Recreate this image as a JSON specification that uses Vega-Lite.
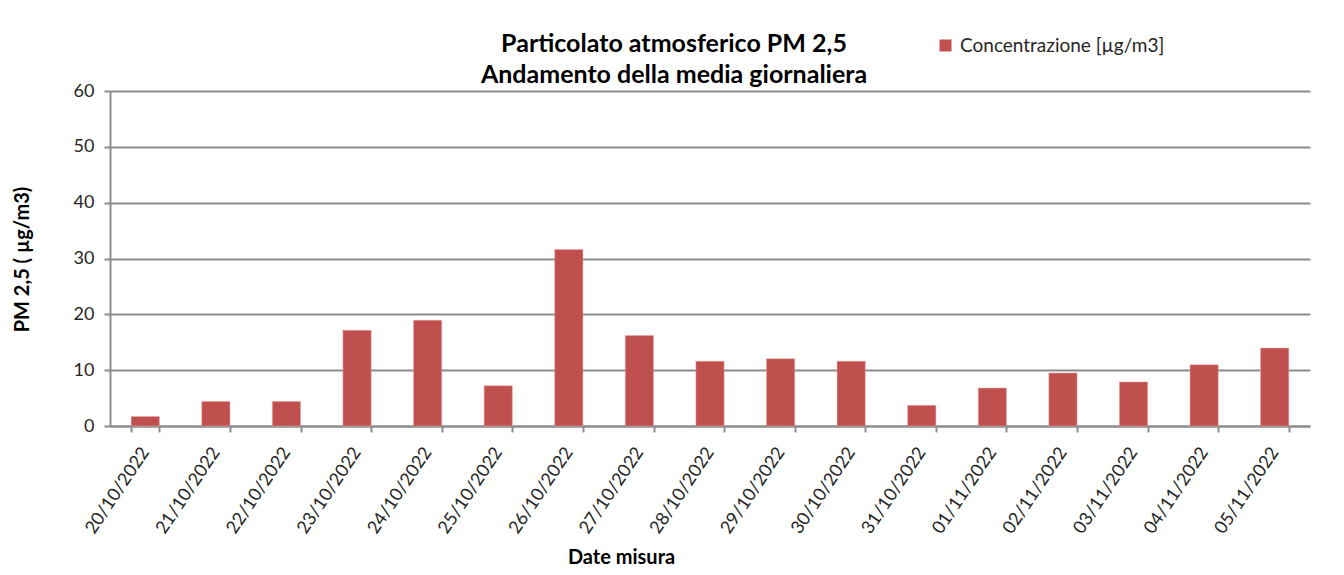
{
  "$schema": "https://vega.github.io/schema/vega-lite/v6.json",
  "autosize": "none",
  "width": 1200,
  "height": 335,
  "padding": {"left": 110, "top": 91, "right": 34, "bottom": 149},
  "background": "white",
  "config": {
    "font": "Lato",
    "view": {"stroke": null}
  },
  "title": {
    "text": ["Particolato  atmosferico PM 2,5", "Andamento della media giornaliera"],
    "fontSize": 25,
    "fontWeight": "bold",
    "font": "Lato",
    "color": "#000000",
    "lineHeight": 31,
    "anchor": "middle",
    "dx": -36,
    "dy": 60,
    "offset": 8
  },
  "data": {
    "values": [
      {"data": "20/10/2022", "valore": 1.7},
      {"data": "21/10/2022", "valore": 4.4},
      {"data": "22/10/2022", "valore": 4.4},
      {"data": "23/10/2022", "valore": 17.15},
      {"data": "24/10/2022", "valore": 18.95},
      {"data": "25/10/2022", "valore": 7.2},
      {"data": "26/10/2022", "valore": 31.6},
      {"data": "27/10/2022", "valore": 16.2},
      {"data": "28/10/2022", "valore": 11.6},
      {"data": "29/10/2022", "valore": 12.05},
      {"data": "30/10/2022", "valore": 11.6},
      {"data": "31/10/2022", "valore": 3.7},
      {"data": "01/11/2022", "valore": 6.8},
      {"data": "02/11/2022", "valore": 9.5},
      {"data": "03/11/2022", "valore": 7.9},
      {"data": "04/11/2022", "valore": 10.95},
      {"data": "05/11/2022", "valore": 13.95}
    ]
  },
  "mark": {"type": "bar", "stroke": "#e8a9a7", "strokeWidth": 0.5},
  "encoding": {
    "x": {
      "field": "data",
      "type": "ordinal",
      "sort": null,
      "scale": {"paddingInner": 0.6, "paddingOuter": 0.3},
      "axis": {
        "title": "Date misura",
        "titleFont": "Lato",
        "titleFontSize": 20,
        "titleFontWeight": "bold",
        "titleColor": "#000000",
        "titleX": 511,
        "titleY": 131,
        "titleBaseline": "middle",
        "titleAnchor": null,
        "labelAngle": -56,
        "labelAlign": "right",
        "labelBaseline": "middle",
        "labelFontSize": 18,
        "labelColor": "#262626",
        "labelPadding": 17,
        "tickBand": "extent",
        "ticks": true,
        "tickSize": 6,
        "tickColor": "#8c8c8c",
        "tickWidth": 2,
        "domainColor": "#8c8c8c",
        "domainWidth": 2,
        "grid": false
      }
    },
    "y": {
      "field": "valore",
      "type": "quantitative",
      "scale": {"domain": [0, 60]},
      "axis": {
        "title": "PM 2,5 ( µg/m3)",
        "titleFont": "Lato",
        "titleFontSize": 20,
        "titleFontWeight": "bold",
        "titleColor": "#000000",
        "titleX": -88,
        "titleY": 168,
        "titleAngle": -90,
        "titleBaseline": "middle",
        "titleAlign": "center",
        "values": [0, 10, 20, 30, 40, 50, 60],
        "labelFontSize": 18,
        "labelColor": "#262626",
        "labelPadding": 10,
        "tickSize": 6,
        "tickColor": "#8c8c8c",
        "tickWidth": 2,
        "domainColor": "#8c8c8c",
        "domainWidth": 2,
        "grid": true,
        "gridColor": "#8c8c8c",
        "gridWidth": 2
      }
    },
    "color": {
      "datum": "Concentrazione [µg/m3]",
      "type": "nominal",
      "scale": {"range": ["#C0504D"]},
      "legend": {
        "orient": "none",
        "legendX": 826,
        "legendY": -55,
        "title": null,
        "symbolType": "square",
        "symbolSize": 144,
        "symbolStrokeWidth": 0,
        "labelFont": "Lato",
        "labelFontSize": 19,
        "labelColor": "#262626",
        "labelOffset": 5,
        "labelLimit": 0
      }
    }
  }
}
